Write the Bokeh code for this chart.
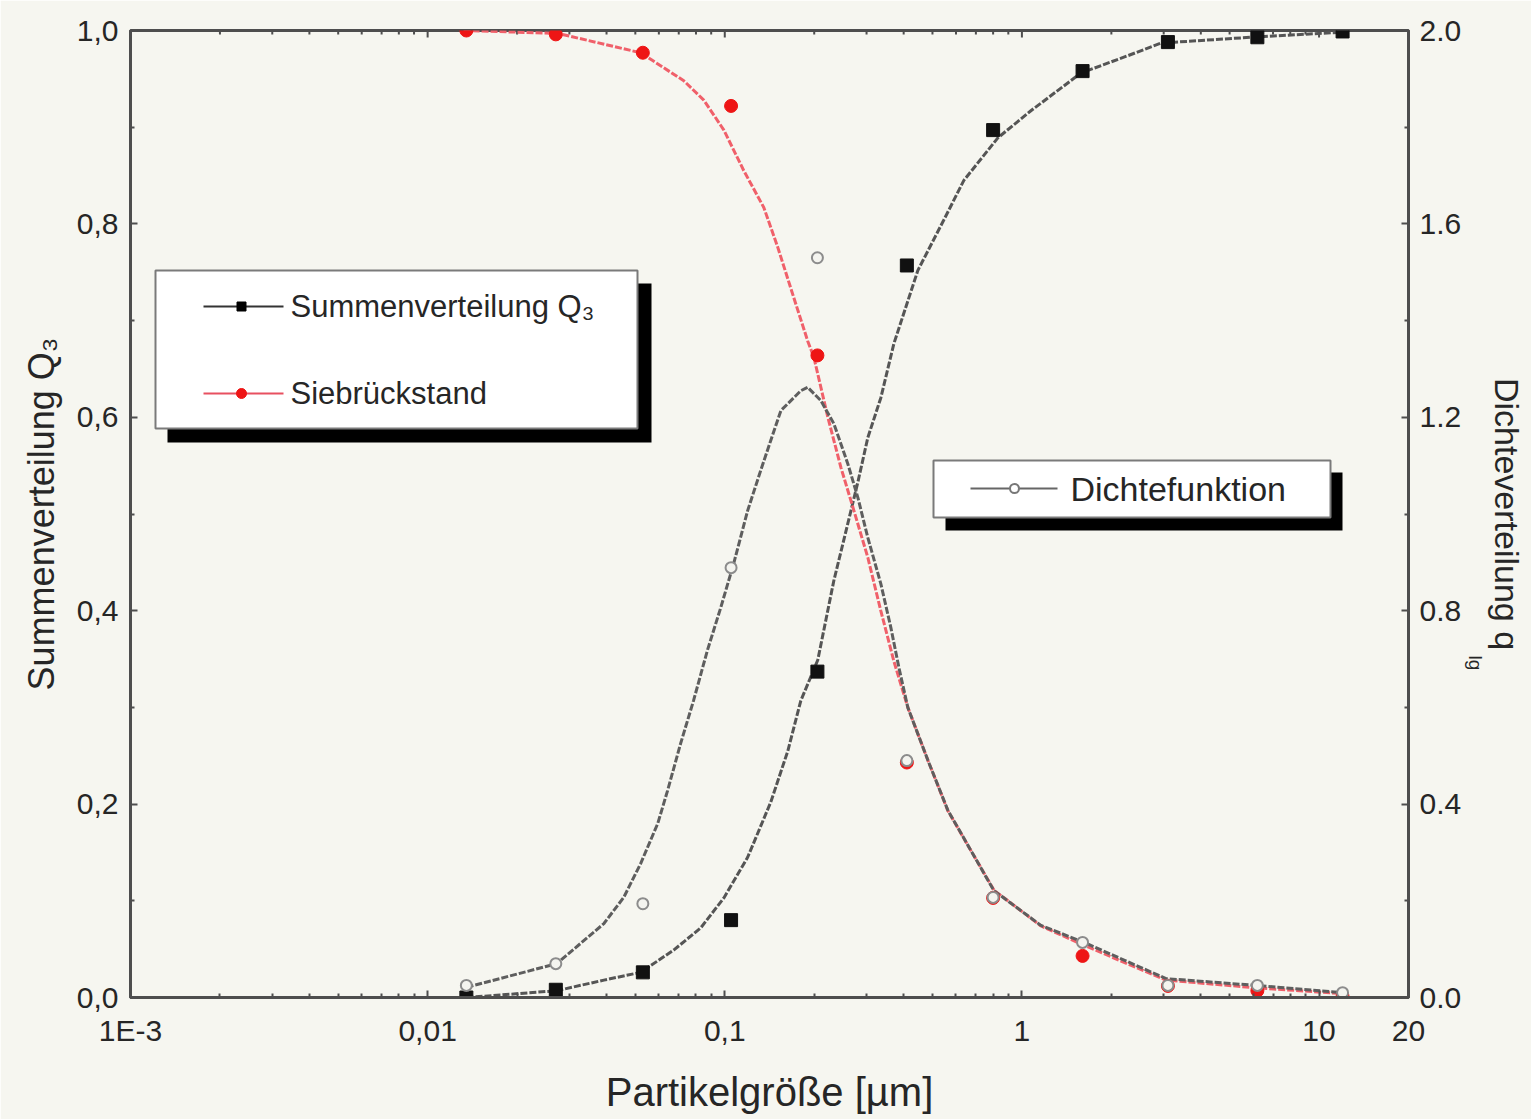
import math
from bokeh.plotting import figure
from bokeh.models import Range1d, LinearAxis, FixedTicker, Title
from bokeh.core.properties import value
from bokeh.embed import file_html
from bokeh.resources import INLINE

# ---------------- data ----------------
particle_size = [0.0135, 0.027, 0.053, 0.105, 0.205, 0.41, 0.80, 1.60, 3.10, 6.20, 12.0]
summen_q3 = [0.0, 0.008, 0.026, 0.080, 0.337, 0.757, 0.897, 0.958, 0.988, 0.993, 0.999]
siebrueckstand = [1.0, 0.996, 0.977, 0.922, 0.664, 0.243, 0.103, 0.043, 0.012, 0.007, 0.001]
dichte_q = [0.025, 0.070, 0.194, 0.889, 1.530, 0.490, 0.207, 0.114, 0.025, 0.025, 0.010]

# fitted curves as drawn in the picture
summen_fit_x = [0.01352, 0.0272, 0.0392, 0.0521, 0.0673, 0.0830, 0.0993, 0.1194, 0.1428, 0.163,
                0.1803, 0.2056, 0.2328, 0.2594, 0.2805, 0.3030, 0.3350, 0.3706, 0.4466, 0.5458,
                0.6377, 0.830, 1.072, 1.580, 2.275, 2.938, 5.90, 11.58]
summen_fit_y = [0.000, 0.007, 0.018, 0.026, 0.049, 0.072, 0.103, 0.145, 0.202, 0.255,
                0.307, 0.349, 0.431, 0.490, 0.533, 0.579, 0.620, 0.676, 0.752, 0.804,
                0.845, 0.889, 0.917, 0.956, 0.974, 0.987, 0.993, 0.998]

sieb_fit_x = [0.01321, 0.02742, 0.0521, 0.0728, 0.0850, 0.0993, 0.1159, 0.1353, 0.1507, 0.1706,
              0.1901, 0.1995, 0.2223, 0.2460, 0.2717, 0.3030, 0.3350, 0.3706, 0.4130, 0.4830,
              0.5636, 0.805, 1.159, 1.618, 3.055, 6.14, 12.05]
sieb_fit_y = [1.0, 0.997, 0.977, 0.948, 0.928, 0.897, 0.855, 0.817, 0.776, 0.724,
              0.679, 0.662, 0.600, 0.548, 0.504, 0.455, 0.400, 0.348, 0.300, 0.245,
              0.193, 0.111, 0.074, 0.054, 0.018, 0.010, 0.004]

dichte_fit_x = [0.01352, 0.0272, 0.0392, 0.0457, 0.0521, 0.0595, 0.0642, 0.0710, 0.0785, 0.0874,
                0.0970, 0.1072, 0.1194, 0.1321, 0.1428, 0.1545, 0.1803, 0.1901, 0.2103, 0.2328,
                0.2594, 0.2805, 0.3030, 0.3350, 0.3622, 0.3853, 0.4130, 0.4830, 0.5636, 0.805,
                1.159, 1.618, 3.055, 6.14, 12.05]
dichte_fit_y = [0.021, 0.070, 0.153, 0.207, 0.277, 0.360, 0.428, 0.525, 0.614, 0.718,
                0.807, 0.898, 1.007, 1.090, 1.152, 1.214, 1.255, 1.262, 1.235, 1.187,
                1.104, 1.034, 0.951, 0.856, 0.765, 0.683, 0.600, 0.490, 0.387, 0.221,
                0.149, 0.114, 0.039, 0.025, 0.010]

x_ticks = [0.001, 0.01, 0.1, 1, 10, 20]
x_tick_labels = ["1E-3", "0,01", "0,1", "1", "10", "20"]
left_ticks = [0.0, 0.2, 0.4, 0.6, 0.8, 1.0]
left_tick_labels = ["0,0", "0,2", "0,4", "0,6", "0,8", "1,0"]
right_ticks = [0.0, 0.4, 0.8, 1.2, 1.6, 2.0]
right_tick_labels = ["0.0", "0.4", "0.8", "1.2", "1.6", "2.0"]

# ---------------- layout ----------------
FONT = "Liberation Sans"
BG = "#f6f6f0"
AXC = "#4e4e4e"
TXT = "#262626"

FL, FR, FT, FB = 130, 1408, 30, 997  # frame in page pixels
XMIN, XMAX = 0.001, 20.0


def fx(px):
    return 10 ** (math.log10(XMIN) + (px - FL) / (FR - FL) * (math.log10(XMAX) - math.log10(XMIN)))


def fy(py):
    return (FB - py) / (FB - FT)


p = figure(frame_width=FR - FL, frame_height=FB - FT, x_axis_type="log",
           x_range=Range1d(XMIN, XMAX), y_range=Range1d(0, 1),
           output_backend="svg", toolbar_location=None,
           min_border_left=FL, min_border_right=1531 - FR,
           min_border_top=FT, min_border_bottom=1119 - FB,
           background_fill_color=BG, border_fill_color=BG)
p.grid.visible = False
p.outline_line_color = AXC
p.outline_line_width = 3
p.extra_y_ranges = {"q": Range1d(0, 2)}

minor_x = [k * d for d in [0.001, 0.01, 0.1, 1] for k in range(2, 10)]
xt = FixedTicker(ticks=x_ticks, minor_ticks=minor_x)


def style_axis(ax, size="30px"):
    ax.axis_line_color = AXC
    ax.axis_line_width = 3
    ax.major_tick_line_color = AXC
    ax.minor_tick_line_color = AXC
    ax.major_tick_line_width = 2
    ax.minor_tick_line_width = 2
    ax.major_tick_in = 7
    ax.major_tick_out = 0
    ax.minor_tick_in = 4
    ax.minor_tick_out = 0
    ax.major_label_text_font = FONT
    ax.major_label_text_font_size = size
    ax.major_label_text_color = TXT
    ax.axis_label_text_font = FONT
    ax.axis_label_text_font_style = "normal"
    ax.axis_label_text_color = TXT


xa = p.xaxis[0]
xa.ticker = xt
style_axis(xa)
xa.major_label_overrides = dict(zip(x_ticks, x_tick_labels))
xa.major_label_standoff = 16
xa.axis_label = "Partikelgröße [µm]"
xa.axis_label_text_font_size = "40px"
xa.axis_label_standoff = 20

ya = p.yaxis[0]
ya.ticker = FixedTicker(ticks=left_ticks, minor_ticks=[0.1, 0.3, 0.5, 0.7, 0.9])
style_axis(ya)
ya.major_label_overrides = dict(zip(left_ticks, left_tick_labels))
ya.major_label_standoff = 12
ya.axis_label = "Summenverteilung Q₃"
ya.axis_label_text_font_size = "36px"
ya.axis_label_standoff = 12

ra = LinearAxis(y_range_name="q",
                ticker=FixedTicker(ticks=right_ticks, minor_ticks=[0.2, 0.6, 1.0, 1.4, 1.8]))
style_axis(ra)
ra.major_label_overrides = dict(zip(right_ticks, right_tick_labels))
ra.major_label_standoff = 11
p.add_layout(ra, "right")

# right-hand axis title: the subscript panel sits next to the tick labels,
# the main text further out, so that "lg" lies on the baseline side of the "q"
sub = Title(text="lg", align="left", offset=625, standoff=0, vertical_align="bottom",
            text_font=FONT, text_font_size="19px", text_font_style="normal", text_color=TXT)
p.add_layout(sub, "right")
main = Title(text="Dichteverteilung q", align="center", standoff=0, vertical_align="bottom",
             text_font=FONT, text_font_size="34px", text_font_style="normal", text_color=TXT)
p.add_layout(main, "right")

# inward ticks along the top edge of the frame
top_major = x_ticks
top_minor = minor_x
p.segment(x0=top_major, y0=[1.0] * len(top_major), x1=top_major,
          y1=[1.0 - 7 / (FB - FT)] * len(top_major), line_color=AXC, line_width=2)
p.segment(x0=top_minor, y0=[1.0] * len(top_minor), x1=top_minor,
          y1=[1.0 - 4 / (FB - FT)] * len(top_minor), line_color=AXC, line_width=2)

# ---------------- curves ----------------
p.line(summen_fit_x, summen_fit_y, line_color="#555555", line_width=3, line_dash="7 2")
p.line(sieb_fit_x, sieb_fit_y, line_color="#f0606a", line_width=3, line_dash="7 2")
p.line(dichte_fit_x, dichte_fit_y, y_range_name="q", line_color="#5e5e5e", line_width=3, line_dash="7 2")

# ---------------- markers ----------------
p.scatter(particle_size, summen_q3, marker="square", size=13, fill_color="#111111", line_color="#111111")
p.scatter(particle_size, siebrueckstand, marker="circle", size=13, fill_color="#ee1515", line_color="#ee1515")
p.scatter(particle_size, dichte_q, y_range_name="q", marker="circle", size=11,
          fill_color="#f4f4ef", line_color="#8c8c8c", line_width=2)

# ---------------- legends (drawn boxes with shadow) ----------------
# legend 1
p.quad(left=[fx(167)], right=[fx(651)], top=[fy(283)], bottom=[fy(442)], fill_color="#000000", line_color=None)
p.quad(left=[fx(155)], right=[fx(637)], top=[fy(270)], bottom=[fy(428)], fill_color="#ffffff",
       line_color="#7a7a7a", line_width=2)
p.line([fx(203), fx(283)], [fy(306), fy(306)], line_color="#333333", line_width=2)
p.scatter([fx(241)], [fy(306)], marker="square", size=9, fill_color="#000000", line_color="#000000")
p.line([fx(203), fx(283)], [fy(393), fy(393)], line_color="#e85060", line_width=2)
p.scatter([fx(241)], [fy(393)], marker="circle", size=10, fill_color="#ee1515", line_color="#ee1515")
p.text(x=[fx(290), fx(290)], y=[fy(306), fy(393)], text=["Summenverteilung Q₃", "Siebrückstand"],
       text_font=value(FONT), text_font_size="31px", text_color=TXT, text_baseline="middle")

# legend 2
p.quad(left=[fx(945)], right=[fx(1342)], top=[fy(472)], bottom=[fy(530)], fill_color="#000000", line_color=None)
p.quad(left=[fx(933)], right=[fx(1330)], top=[fy(460)], bottom=[fy(517)], fill_color="#ffffff",
       line_color="#7a7a7a", line_width=2)
p.line([fx(970), fx(1057)], [fy(488), fy(488)], line_color="#666666", line_width=2)
p.scatter([fx(1014)], [fy(488)], marker="circle", size=9, fill_color="#ffffff", line_color="#777777", line_width=2)
p.text(x=[fx(1070)], y=[fy(488)], text=["Dichtefunktion"],
       text_font=value(FONT), text_font_size="34px", text_color=TXT, text_baseline="middle")

open("out.html", "w").write(file_html(p, INLINE))
